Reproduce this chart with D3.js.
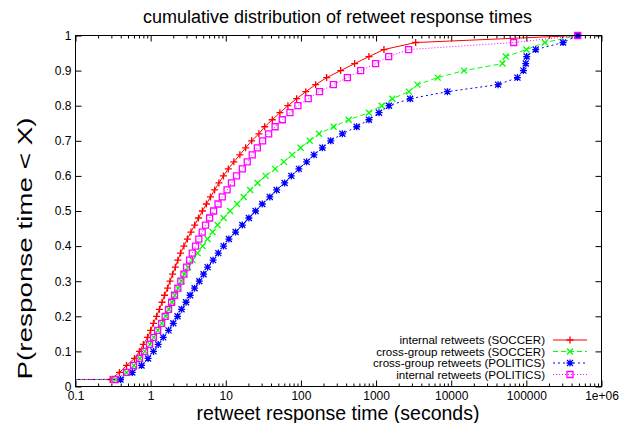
<!DOCTYPE html>
<html><head><meta charset="utf-8">
<script src="https://cdn.jsdelivr.net/npm/d3@7"></script>
<style>body{margin:0;background:#fff}svg{display:block}text{font-family:"Liberation Sans",Arial,sans-serif}</style>
</head><body><svg id="c" width="629" height="423"></svg>
<script>
// cumulative probability levels (quantile steps)
const probs = [0.02,0.04,0.06,0.08,0.10,0.12,0.14,0.16,0.18,0.20,0.22,0.24,0.26,0.28,0.30,0.32,0.34,0.36,0.38,0.40,0.42,0.44,0.46,0.48,0.50,0.52,0.54,0.56,0.58,0.60,0.62,0.64,0.66,0.68,0.70,0.72,0.74,0.76,0.78,0.80,0.82,0.84,0.86,0.88,0.90,0.92,0.94,0.96,0.98,1.00];
// leading sample (below the axis range) at the first level
const leadTime = 0.05;
const leadProb = 0.02;
// response times (seconds) at each level
const internalSoccer = [0.29,0.385,0.478,0.61,0.71,0.80,0.91,1.0,1.09,1.2,1.31,1.42,1.53,1.68,1.81,1.96,2.13,2.30,2.50,2.77,3.08,3.44,3.86,4.33,4.88,5.52,6.25,7.11,8.11,9.31,10.8,12.8,15.4,18.4,22.1,27.6,32.9,41.6,52.5,67.1,87.7,116,157,220,338,519,804,1274,3365,483000];
const crossSoccer = [0.34,0.48,0.60,0.72,0.84,0.98,1.10,1.25,1.41,1.58,1.75,1.92,2.10,2.33,2.56,2.81,3.15,3.61,4.21,4.91,5.72,6.67,7.78,9.35,11.4,14.1,17.3,21.1,26.5,33.9,45.3,59.4,76.4,99.1,131,174,272,432,804,1188,1648,2742,3548,6607,14800,48100,53200,100200,176000,483000];
const crossPolitics = [0.397,0.569,0.757,0.923,1.09,1.26,1.47,1.73,2.00,2.28,2.58,2.96,3.35,3.84,4.44,5.06,5.73,6.78,7.95,9.35,11.0,13.5,16.6,20.3,24.9,30.6,38.6,47.5,60.7,74.5,94.0,119,149,193,249,356,552,804,1094,1486,2844,8900,42000,76100,91400,98200,101000,133000,308000,483000];
const internalPolitics = [0.334,0.478,0.592,0.711,0.83,0.967,1.09,1.24,1.40,1.56,1.73,1.90,2.08,2.30,2.52,2.77,3.01,3.30,3.58,3.96,4.38,4.86,5.38,6.09,6.88,7.89,8.98,10.4,11.9,13.9,16.6,19.3,22.5,26.3,30.9,37.2,45.3,56.5,71.4,91.2,125,177,270,415,624,986,1472,2717,67900,483000];
const seriesNames = ["internal retweets (SOCCER)","cross-group retweets (SOCCER)","cross-group retweets (POLITICS)","internal retweets (POLITICS)"];
const xTickValues = [0.1,1,10,100,1000,10000,100000,1000000];
const xTickLabels = ["0.1","1","10","100","1000","10000","100000","1e+06"];
const yTickValues = [0,0.1,0.2,0.3,0.4,0.5,0.6,0.7,0.8,0.9,1];
const yTickLabels = ["0","0.1","0.2","0.3","0.4","0.5","0.6","0.7","0.8","0.9","1"];
const titleText = "cumulative distribution of retweet response times";
const xLabel = "retweet response time (seconds)";
const yLabel = "P(response time < X)";

const styles = [
  {color:"#ff0000", dash:null, sym:"plus"},
  {color:"#00ff00", dash:"5,3", sym:"times"},
  {color:"#0000ff", dash:"2,3", sym:"star"},
  {color:"#ff00ff", dash:"1,2", sym:"square"}
];
const seriesData = [internalSoccer, crossSoccer, crossPolitics, internalPolitics];

const svg = d3.select("#c");
const L=75.5, R=601.5, T=35.5, B=386.5;
const x = d3.scaleLog().domain([0.1,1e6]).range([L,R]);
const y = d3.scaleLinear().domain([0,1]).range([B,T]);

function symPath(type){
  const p = d3.path();
  if(type==="plus"||type==="star"){ const h=3.5; p.moveTo(-h,0);p.lineTo(h,0);p.moveTo(0,-h);p.lineTo(0,h); }
  if(type==="times"||type==="star"){ const h=3; p.moveTo(-h,-h);p.lineTo(h,h);p.moveTo(-h,h);p.lineTo(h,-h); }
  if(type==="square"){ const h=3; p.rect(-h,-h,2*h,2*h); }
  return p.toString();
}

// title & labels
svg.append("text").attr("x",337.5).attr("y",22.5).attr("text-anchor","middle").attr("font-size",18).attr("fill","#000").text(titleText);
svg.append("text").attr("x",338).attr("y",419.5).attr("text-anchor","middle").attr("font-size",19.5).attr("fill","#000").text(xLabel);
svg.append("text").attr("transform","translate(32,248.5) rotate(-90)").attr("text-anchor","middle").attr("font-size",21).attr("fill","#000")
  .attr("textLength",262).attr("lengthAdjust","spacingAndGlyphs").text(yLabel);

// minor x ticks
const minor = [];
for(let e=-1;e<6;e++){ for(let k=2;k<=9;k++){ minor.push(k*Math.pow(10,e)); } }

const fmtX = (d)=> xTickLabels[xTickValues.indexOf(d)];
const fmtY = (d)=> yTickLabels[yTickValues.indexOf(d)];

const gxb = svg.append("g").attr("transform",`translate(0,${B})`)
  .call(d3.axisBottom(x).tickValues(xTickValues).tickFormat(fmtX).tickSizeInner(-6).tickSizeOuter(0).tickPadding(4.5));
const gxbm = svg.append("g").attr("transform",`translate(0,${B})`)
  .call(d3.axisBottom(x).tickValues(minor).tickFormat("").tickSizeInner(-3).tickSizeOuter(0));
const gxt = svg.append("g").attr("transform",`translate(0,${T})`)
  .call(d3.axisTop(x).tickValues(xTickValues).tickFormat("").tickSizeInner(-6).tickSizeOuter(0));
const gxtm = svg.append("g").attr("transform",`translate(0,${T})`)
  .call(d3.axisTop(x).tickValues(minor).tickFormat("").tickSizeInner(-3).tickSizeOuter(0));
const gyl = svg.append("g").attr("transform",`translate(${L},0)`)
  .call(d3.axisLeft(y).tickValues(yTickValues).tickFormat(fmtY).tickSizeInner(-6).tickSizeOuter(0).tickPadding(4));
const gyr = svg.append("g").attr("transform",`translate(${R},0)`)
  .call(d3.axisRight(y).tickValues(yTickValues).tickFormat("").tickSizeInner(-6).tickSizeOuter(0));
[gxb,gxbm,gxt,gxtm,gyl,gyr].forEach(g=>{
  g.select(".domain").remove();
  g.selectAll("line").attr("stroke","#000");
  g.selectAll("text").attr("font-size",12).attr("fill","#000").attr("font-family",'"Liberation Sans",Arial,sans-serif');
});

// clip
svg.append("clipPath").attr("id","clip").append("rect").attr("x",L).attr("y",T).attr("width",R-L).attr("height",B-T);

const line = d3.line().x(d=>x(d.t)).y(d=>y(d.p));
seriesData.forEach((arr,i)=>{
  const st = styles[i];
  const pts = [{t:leadTime,p:leadProb}].concat(arr.map((t,j)=>({t:t,p:probs[j]})));
  const g = svg.append("g");
  g.append("path").datum(pts).attr("d",line).attr("fill","none").attr("stroke",st.color).attr("stroke-width",1)
    .attr("stroke-dasharray",st.dash).attr("clip-path","url(#clip)");
  g.selectAll("path.m").data(pts.filter(d=>d.t>=0.1 && d.t<=1e6)).enter().append("path").attr("class","m")
    .attr("d",symPath(st.sym)).attr("transform",d=>`translate(${x(d.t)},${y(d.p)})`)
    .attr("fill","none").attr("stroke",st.color).attr("stroke-width",1.3);
});

// border
svg.append("rect").attr("x",L).attr("y",T).attr("width",R-L).attr("height",B-T).attr("fill","none").attr("stroke","#000").attr("stroke-width",1);

// legend
const legRows = [340,351.5,363,374.5];
seriesNames.forEach((name,i)=>{
  const st = styles[i];
  const ry = legRows[i];
  svg.append("text").attr("x",545).attr("y",ry+4).attr("text-anchor","end").attr("font-size",11.6).attr("fill","#000").text(name);
  svg.append("line").attr("x1",553).attr("x2",587).attr("y1",ry).attr("y2",ry).attr("stroke",st.color).attr("stroke-width",1).attr("stroke-dasharray",st.dash);
  svg.append("path").attr("d",symPath(st.sym)).attr("transform",`translate(570,${ry})`).attr("fill","none").attr("stroke",st.color).attr("stroke-width",1.3);
});
</script></body></html>
